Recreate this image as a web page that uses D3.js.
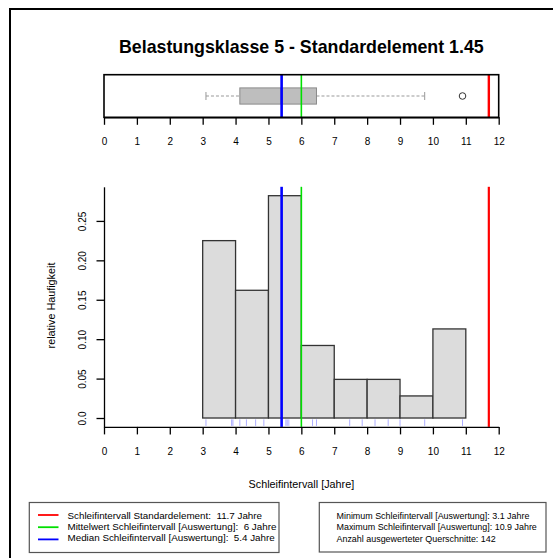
<!DOCTYPE html>
<html>
<head>
<meta charset="utf-8">
<script src="https://cdn.jsdelivr.net/npm/d3@7"></script>
<style>
  html, body { margin: 0; padding: 0; background: #fff; }
  svg { display: block; font-family: "Liberation Sans", Arial, sans-serif; }
</style>
</head>
<body>
<svg id="chart" width="553" height="558"></svg>
<script>
// Histogram bins (Schleifintervall in Jahren) and their relative frequencies
const binEdges = [3, 4, 5, 6, 7, 8, 9, 10, 11];
const relFreq = [0.225, 0.162, 0.282, 0.092, 0.049, 0.049, 0.028, 0.113];

// Distinct evaluated values shown as rug marks
const rugValues = [3.1, 3.88, 3.92, 4.13, 4.33, 4.61, 4.86, 5.4, 5.53, 5.57, 5.62,
                   6.34, 6.46, 7.47, 7.85, 8.24, 8.64, 9.0, 9.75, 10.9];

// Box plot summary
const boxStats = { whiskerLow: 3.1, q1: 4.13, median: 5.4, q3: 6.46, whiskerHigh: 9.75 };
const outliers = [10.9];

// Reference values
const standardInterval = 11.7;
const meanInterval = 6;
const medianInterval = 5.4;
const minInterval = 3.1;
const maxInterval = 10.9;
const sampleCount = 142;

const xTicks = [0, 1, 2, 3, 4, 5, 6, 7, 8, 9, 10, 11, 12];
const yTicks = [0, 0.05, 0.10, 0.15, 0.20, 0.25];
const yTickLabels = ["0.0", "0.05", "0.10", "0.15", "0.20", "0.25"];

const svg = d3.select("#chart");

// outer frame
svg.append("rect").attr("x", 10).attr("y", 9).attr("width", 700).attr("height", 700)
  .attr("fill", "none").attr("stroke", "#000").attr("stroke-width", 2);

const x = d3.scaleLinear().domain([0, 12]).range([104, 498.7]);

// Title
svg.append("text").attr("x", x(6)).attr("y", 52.5).attr("text-anchor", "middle")
  .attr("font-size", "17.8px").attr("font-weight", "bold")
  .text("Belastungsklasse 5 - Standardelement 1.45");

// ---------- Box plot panel ----------
const boxTop = 74.7, boxBottom = 117.3;
const boxG = svg.append("g");
const by = d3.scaleLinear().domain([0, 1]).range([boxBottom, boxTop]);

// whiskers
boxG.append("line").attr("x1", x(boxStats.whiskerLow)).attr("x2", x(boxStats.q1))
  .attr("y1", by(0.5)).attr("y2", by(0.5)).attr("stroke", "#999").attr("stroke-dasharray", "3,2");
boxG.append("line").attr("x1", x(boxStats.q3)).attr("x2", x(boxStats.whiskerHigh))
  .attr("y1", by(0.5)).attr("y2", by(0.5)).attr("stroke", "#999").attr("stroke-dasharray", "3,2");
[boxStats.whiskerLow, boxStats.whiskerHigh].forEach(v => {
  boxG.append("line").attr("x1", x(v)).attr("x2", x(v))
    .attr("y1", by(0.5) - 4).attr("y2", by(0.5) + 4).attr("stroke", "#999");
});
boxG.append("rect").attr("x", x(boxStats.q1)).attr("y", by(0.69))
  .attr("width", x(boxStats.q3) - x(boxStats.q1)).attr("height", by(0.31) - by(0.69))
  .attr("fill", "#bebebe").attr("stroke", "#8a8a8a");
boxG.append("line").attr("x1", x(boxStats.median)).attr("x2", x(boxStats.median))
  .attr("y1", by(0.69)).attr("y2", by(0.31)).attr("stroke", "#777").attr("stroke-width", 2);
boxG.selectAll("circle.out").data(outliers).join("circle").attr("class", "out")
  .attr("cx", d => x(d)).attr("cy", by(0.5)).attr("r", 3.3)
  .attr("fill", "none").attr("stroke", "#333");

// reference lines in box panel
const refLines = [
  { v: medianInterval, c: "#0000ff", w: 2.6 },
  { v: meanInterval, c: "#00e000", w: 1.6 },
  { v: standardInterval, c: "#ff0000", w: 2.4 }
];
refLines.forEach(r => {
  boxG.append("line").attr("x1", x(r.v)).attr("x2", x(r.v))
    .attr("y1", boxTop).attr("y2", boxBottom).attr("stroke", r.c).attr("stroke-width", r.w);
});
boxG.append("rect").attr("x", x(0)).attr("y", boxTop).attr("width", x(12) - x(0))
  .attr("height", boxBottom - boxTop).attr("fill", "none").attr("stroke", "#000").attr("stroke-width", 1.6);

// box panel axis
const axisTop = svg.append("g").attr("transform", `translate(0,${boxBottom})`)
  .call(d3.axisBottom(x).tickValues(xTicks).tickSize(7.5).tickSizeOuter(0).tickPadding(13.5)
    .tickFormat(d3.format("d")));
styleAxis(axisTop);

// ---------- Histogram panel ----------
const yMax = d3.max(relFreq);
const pad = yMax * 0.04;
const y = d3.scaleLinear().domain([-pad, yMax + pad]).range([426.9, 186.8]);
const plotBottom = y(-pad), plotTop = y(yMax + pad);

const bins = relFreq.map((f, i) => ({ x0: binEdges[i], x1: binEdges[i + 1], f }));
svg.append("g").selectAll("rect").data(bins).join("rect")
  .attr("x", d => x(d.x0)).attr("width", d => x(d.x1) - x(d.x0))
  .attr("y", d => y(d.f)).attr("height", d => y(0) - y(d.f))
  .attr("fill", "#dcdcdc").attr("stroke", "#333").attr("stroke-width", 1.3);

// rug
svg.append("g").selectAll("line").data(rugValues).join("line")
  .attr("x1", d => x(d)).attr("x2", d => x(d))
  .attr("y1", plotBottom - 7.5).attr("y2", plotBottom - 1)
  .attr("stroke", "rgba(70,70,255,0.45)").attr("stroke-width", 1);

const histRefs = [
  { v: medianInterval, c: "#0000ff", w: 2.6 },
  { v: meanInterval, c: "#00e000", w: 1.6 },
  { v: standardInterval, c: "#ff0000", w: 2.2 }
];
histRefs.forEach(r => {
  svg.append("line").attr("x1", x(r.v)).attr("x2", x(r.v))
    .attr("y1", plotTop).attr("y2", plotBottom).attr("stroke", r.c).attr("stroke-width", r.w);
});

const axisBottom = svg.append("g").attr("transform", `translate(0,${plotBottom})`)
  .call(d3.axisBottom(x).tickValues(xTicks).tickSize(7.5).tickSizeOuter(0).tickPadding(13.5)
    .tickFormat(d3.format("d")));
styleAxis(axisBottom);

const axisLeft = svg.append("g").attr("transform", `translate(${x(0)},0)`)
  .call(d3.axisLeft(y).tickValues(yTicks).tickSize(7.5).tickSizeOuter(0)
    .tickFormat((d, i) => yTickLabels[i]));
styleAxis(axisLeft);
axisLeft.selectAll(".tick text")
  .attr("x", null).attr("dy", null)
  .attr("text-anchor", "middle")
  .attr("transform", "translate(-21.5,0) rotate(-90) translate(0,3.6)");

// axis titles
svg.append("text").attr("x", x(6)).attr("y", 488).attr("text-anchor", "middle")
  .attr("font-size", "10.8px").text("Schleifintervall [Jahre]");
svg.append("text").attr("transform", `translate(55,305.5) rotate(-90)`)
  .attr("text-anchor", "middle").attr("font-size", "10.8px").text("relative Haufigkeit");

// ---------- Legends ----------
// scale a block of legend texts so that its reference line spans the given width
function fitTexts(sel, refIndex, targetWidth, baseSize) {
  sel.attr("font-size", baseSize + "px");
  const w = sel.nodes()[refIndex].getComputedTextLength();
  sel.attr("font-size", (baseSize * targetWidth / w).toFixed(2) + "px");
}

const legendLeft = svg.append("g");
legendLeft.append("rect").attr("x", 29.3).attr("y", 502.5).attr("width", 249.7).attr("height", 50)
  .attr("fill", "#fff").attr("stroke", "#555").attr("stroke-width", 1.2);
const leftItems = [
  { c: "#ff0000", t: `Schleifintervall Standardelement:  ${standardInterval} Jahre` },
  { c: "#00e000", t: `Mittelwert Schleifintervall [Auswertung]:  ${meanInterval} Jahre` },
  { c: "#0000ff", t: `Median Schleifintervall [Auswertung]:  ${medianInterval} Jahre` }
];
legendLeft.selectAll("line").data(leftItems).join("line")
  .attr("x1", 38).attr("x2", 58.5)
  .attr("y1", (d, i) => 515 + i * 12.2).attr("y2", (d, i) => 515 + i * 12.2)
  .attr("stroke", d => d.c).attr("stroke-width", 1.8);
const leftTexts = legendLeft.selectAll("text").data(leftItems).join("text")
  .attr("x", 67.5).attr("y", (d, i) => 518.5 + i * 11.3)
  .style("white-space", "pre").text(d => d.t);
fitTexts(leftTexts, 1, 209, 10);

const legendRight = svg.append("g");
legendRight.append("rect").attr("x", 319.3).attr("y", 502.5).attr("width", 226.7).attr("height", 49.5)
  .attr("fill", "#fff").attr("stroke", "#555").attr("stroke-width", 1.2);
const rightItems = [
  `Minimum Schleifintervall [Auswertung]: ${minInterval} Jahre`,
  `Maximum Schleifintervall [Auswertung]: ${maxInterval} Jahre`,
  `Anzahl ausgewerteter Querschnitte: ${sampleCount}`
];
const rightTexts = legendRight.selectAll("text").data(rightItems).join("text")
  .attr("x", 336.5).attr("y", (d, i) => 518.8 + i * 11.4).text(d => d);
fitTexts(rightTexts, 1, 200.5, 9);

function styleAxis(g) {
  g.select(".domain").attr("stroke", "#000").attr("stroke-width", 1.3);
  g.selectAll(".tick line").attr("stroke", "#000").attr("stroke-width", 1.3);
  g.selectAll(".tick text").attr("font-size", "10px").attr("fill", "#000")
    .attr("font-family", "Liberation Sans, Arial, sans-serif");
}
</script>
</body>
</html>
